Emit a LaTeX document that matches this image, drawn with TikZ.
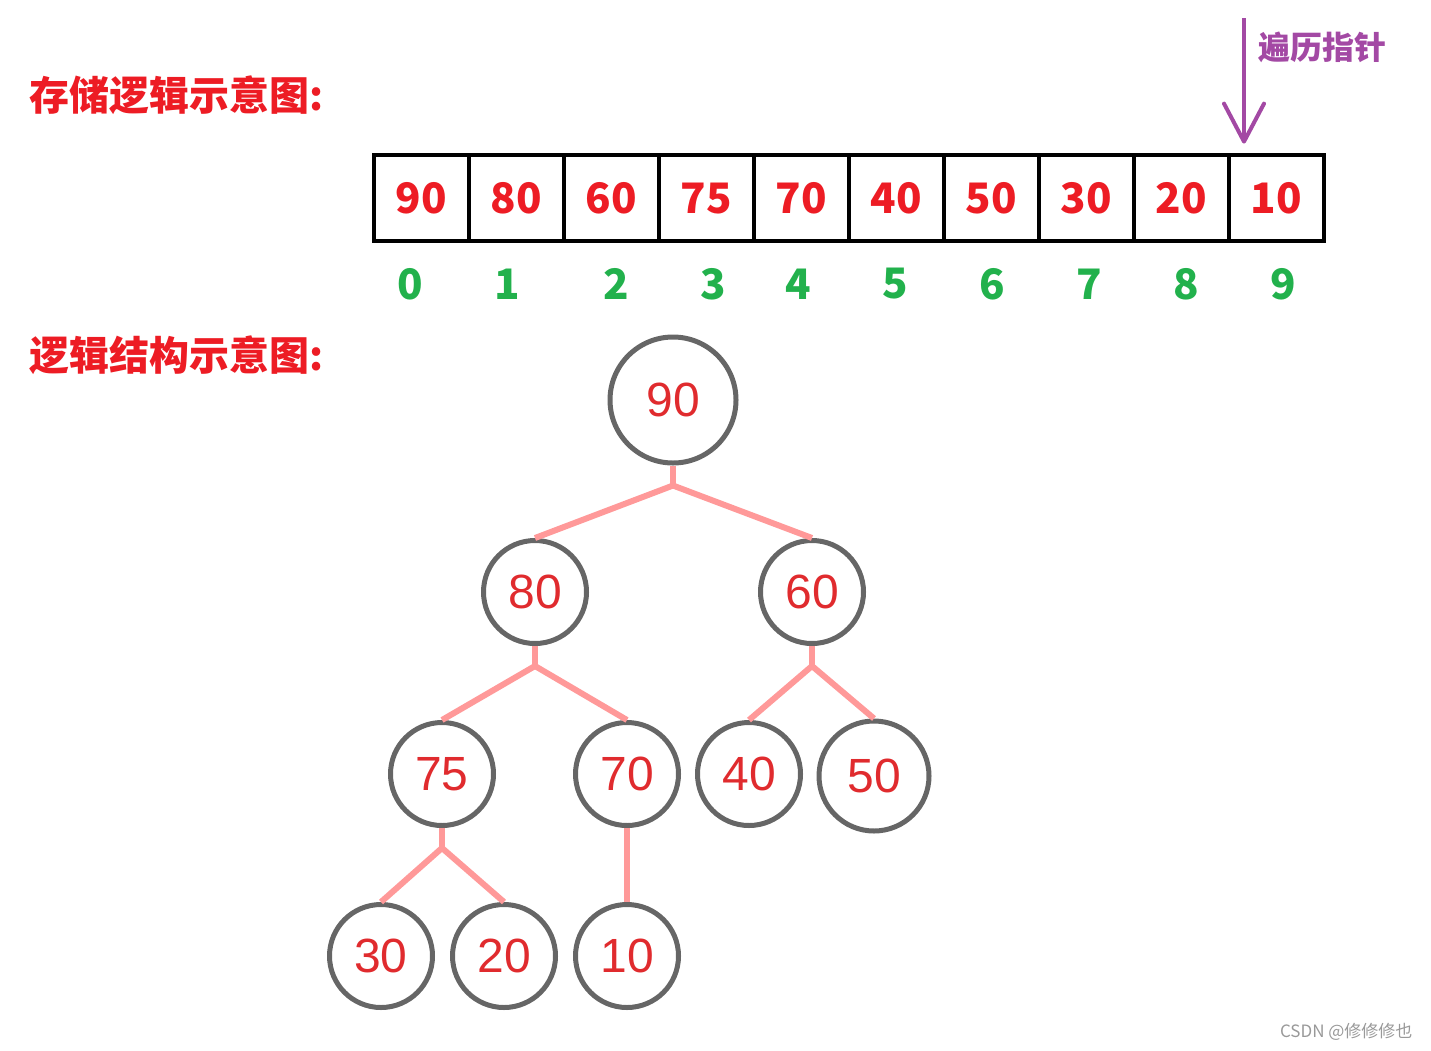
\documentclass[tikz,border=0pt]{standalone}
\usepackage{fontspec}
\setmainfont{Liberation Sans}
\newfontfamily\cjk{Noto Sans CJK SC}
\usetikzlibrary{matrix,arrows.meta}
\definecolor{valred}{HTML}{ED1C24}
\definecolor{keyred}{HTML}{E02B2E}
\definecolor{idxgreen}{HTML}{22B14C}
\definecolor{ptrpurple}{HTML}{A349A4}
\definecolor{edgepink}{HTML}{FF9999}
\definecolor{ringgray}{HTML}{666666}
\begin{document}
\begin{tikzpicture}[x=1pt,y=-1pt,
   arr/.style={matrix of nodes,column sep=-4.5pt,inner sep=0pt,
     nodes={draw,line width=4.5pt,minimum width=95pt,minimum height=86pt,
       text=valred,font=\cjk\bfseries\fontsize{42}{42}\selectfont}},
   idx/.style={text=idxgreen,font=\cjk\bfseries\fontsize{42}{42}\selectfont},
   title/.style={text=valred,anchor=west,font=\cjk\bfseries\fontsize{40}{40}\selectfont},
   key/.style={circle,draw=ringgray,line width=5pt,minimum size=#1,inner sep=0pt,
     text=keyred,font=\fontsize{48}{48}\selectfont},
   key/.default=103pt,
   edge/.style={edgepink,line width=6pt}]
 \useasboundingbox (0,0) rectangle (1431,1050);
 \node[title] (t1) at (26,95) {存储逻辑示意图:};
 \node[title] (t2) at (26,355) {逻辑结构示意图:};
 % array
 \matrix[arr] (arr) at (849,198) {
   90 & 80 & 60 & 75 & 70 & 40 & 50 & 30 & 20 & 10 \\
 };
 \foreach \n/\x in {0/410,1/507,2/616,3/713,4/798,5/895,6/992,7/1089,8/1186,9/1283}
  \node[idx] (i\n) at (\x,284) {\n};
 % pointer
 \coordinate (ptrtop) at (1244,18);
 \draw[ptrpurple,line width=4pt,shorten >=9pt,
   -{Straight Barb[length=38pt,width=40pt,round]}] (ptrtop) -- (ptrtop |- arr-1-10.north);
 \node[text=ptrpurple,font=\cjk\bfseries\fontsize{32}{32}\selectfont] (ptr) at (1322,47) {遍历指针};
 % tree
 \node[key=126pt] (n90) at (673,400) {90};
 \node[key] (n80) at (535,592) {80};
 \node[key] (n60) at (812,592) {60};
 \node[key] (n75) at (442,774) {75};
 \node[key] (n70) at (627,774) {70};
 \node[key] (n40) at (749,774) {40};
 \node[key=110pt] (n50) at (874,776) {50};
 \node[key] (n30) at (381,956) {30};
 \node[key] (n20) at (504,956) {20};
 \node[key] (n10) at (627,956) {10};
 \foreach \p/\a/\b in {90/80/60,80/75/70,60/40/50,75/30/20}
  {\draw[edge] (n\p.south) -- ++(0,20) coordinate (j\p);
   \draw[edge] (j\p) -- (n\a.north);
   \draw[edge] (j\p) -- (n\b.north);}
 \draw[edge] (n70.south) -- (n10.north);
 \node[text=black!40,font=\cjk\fontsize{17}{17}\selectfont,anchor=east] (mark) at (1416,1032) {CSDN @修修修也};
\end{tikzpicture}
\end{document}
